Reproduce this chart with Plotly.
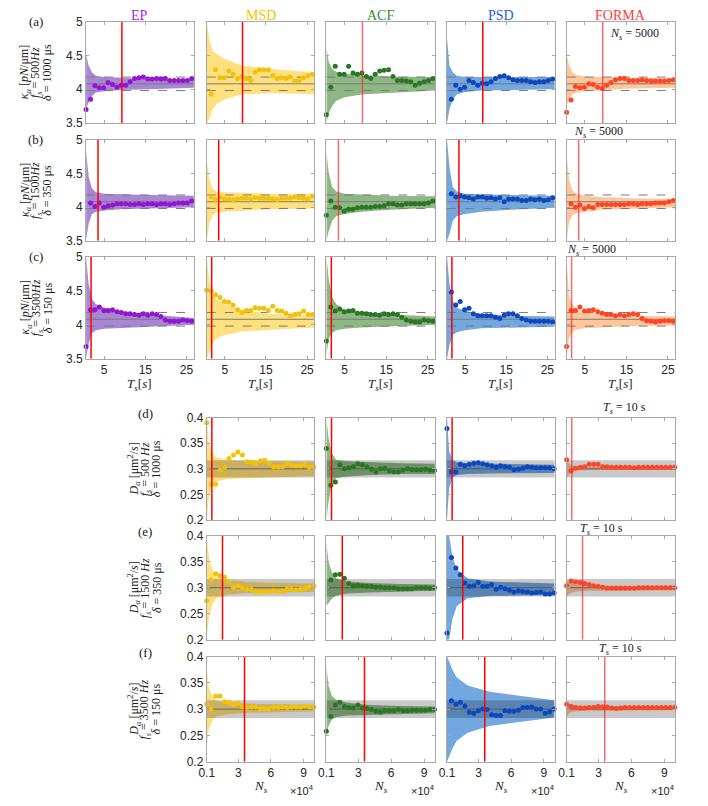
import plotly.graph_objects as go

W, H = 708, 806

# ---------------- data ----------------
# x positions of the estimates
Ts = [0.6, 1.67, 2.74, 3.81, 4.88, 5.95, 7.02, 8.09, 9.16, 10.23, 11.3, 12.37, 13.44,
      14.51, 15.58, 16.65, 17.72, 18.79, 19.86, 20.93, 22.0, 23.07, 24.14, 25.21, 26.28]  # T_s [s]
Ns = [0.1, 0.51, 0.92, 1.33, 1.74, 2.15, 2.56, 2.97, 3.38, 3.79, 4.2, 4.61, 5.02,
      5.43, 5.84, 6.25, 6.66, 7.07, 7.48, 7.89, 8.3, 8.71, 9.12, 9.53, 9.94]  # N_s (x 10^4)
band_Ts = [0.6, 1.2, 2, 3, 5, 9, 16, 26.8]
band_Ns = [0.1, 0.3, 0.6, 1.0, 2, 4, 7, 9.95]

K_TRUE = 4.08
K_TOL = [3.98, 4.18]
D_TRUE = 0.3
D_TOL = [0.283, 0.317]

fs_rows = [500, 1500, 3500]
delta_rows = [1000, 350, 150]
Ts_marker = [9.3, 3.5, 1.8]     # N_s = 5000
Ns_marker = [0.57, 1.55, 3.57]  # T_s = 10 s

# row (a) kappa, fs = 500 Hz
ka_ep = [3.7, 3.85, 4.05, 4.02, 4.02, 4.1, 4.07, 4.03, 4.06, 4.06, 4.11, 4.16, 4.17, 4.18, 4.15, 4.15, 4.16, 4.15, 4.16, 4.13, 4.13, 4.13, 4.13, 4.13, 4.16]
ka_msd = [None, 3.93, 4.29, 4.17, 4.17, 4.27, 4.22, 4.16, 4.19, 4.16, 4.13, 4.25, 4.29, 4.29, 4.29, 4.2, 4.16, 4.17, 4.16, 4.18, 4.12, 4.13, 4.17, 4.2, 4.22]
ka_acf = [3.62, 4.03, 4.34, 4.22, 4.22, 4.34, 4.24, 4.22, 4.24, 4.19, 4.16, 4.22, 4.27, 4.28, 4.29, 4.19, 4.13, 4.13, 4.12, 4.11, 4.06, 4.09, 4.11, 4.13, 4.16]
ka_psd = [None, 3.85, 4.06, 4.0, 4.03, 4.13, 4.1, 4.06, 4.09, 4.08, 4.11, 4.16, 4.19, 4.2, 4.17, 4.14, 4.13, 4.13, 4.13, 4.11, 4.1, 4.11, 4.11, 4.13, 4.15]
ka_forma = [3.66, 3.84, 4.04, 4.02, 4.03, 4.08, 4.07, 4.03, 4.01, 4.06, 4.1, 4.14, 4.16, 4.16, 4.13, 4.13, 4.13, 4.14, 4.13, 4.12, 4.12, 4.12, 4.12, 4.13, 4.14]
ka_ep_hi = [4.52, 4.35, 4.25, 4.2, 4.18, 4.17, 4.15, 4.14]
ka_ep_lo = [3.72, 3.8, 3.9, 3.95, 3.97, 3.99, 4.0, 4.02]
ka_msd_hi = [5.0, 4.75, 4.58, 4.52, 4.45, 4.35, 4.3, 4.25]
ka_msd_lo = [3.5, 3.55, 3.7, 3.78, 3.85, 3.92, 3.94, 3.93]
ka_acf_hi = [4.62, 4.4, 4.3, 4.26, 4.23, 4.21, 4.19, 4.18]
ka_acf_lo = [3.5, 3.65, 3.75, 3.83, 3.88, 3.92, 3.95, 3.98]
ka_psd_hi = [4.75, 4.35, 4.25, 4.2, 4.18, 4.18, 4.18, 4.18]
ka_psd_lo = [3.5, 3.7, 3.85, 3.92, 3.96, 3.98, 3.99, 4.0]
ka_forma_hi = [4.52, 4.35, 4.25, 4.21, 4.19, 4.18, 4.17, 4.16]
ka_forma_lo = [3.75, 3.85, 3.92, 3.95, 3.97, 3.99, 4.01, 4.02]

# row (b) kappa, fs = 1500 Hz
kb_ep = [None, 4.06, 4.01, 4.06, 4.0, 4.02, 4.03, 4.05, 4.05, 4.05, 4.04, 4.04, 4.05, 4.04, 4.05, 4.05, 4.04, 4.05, 4.05, 4.04, 4.05, 4.06, 4.06, 4.06, 4.09]
kb_msd = [None, 4.15, 4.11, 4.15, 4.12, 4.12, 4.11, 4.12, 4.13, 4.13, 4.12, 4.14, 4.13, 4.13, 4.13, 4.12, 4.11, 4.13, 4.13, 4.13, 4.15, 4.14, 4.13, 4.12, 4.16]
kb_acf = [3.88, 4.09, 4.0, 3.99, 3.94, 3.97, 3.97, 3.99, 4.0, 4.0, 4.0, 4.01, 4.01, 4.02, 4.05, 4.05, 4.03, 4.03, 4.05, 4.05, 4.05, 4.05, 4.05, 4.06, 4.09]
kb_psd = [None, 4.2, 4.15, 4.17, 4.15, 4.14, 4.12, 4.15, 4.15, 4.13, 4.14, 4.12, 4.14, 4.08, 4.12, 4.12, 4.12, 4.1, 4.1, 4.12, 4.11, 4.12, 4.1, 4.11, 4.14]
kb_forma = [None, 4.05, 4.0, 4.03, 3.98, 4.01, 3.99, 4.04, 4.04, 4.04, 4.04, 4.04, 4.04, 4.04, 4.05, 4.05, 4.04, 4.05, 4.05, 4.05, 4.06, 4.06, 4.06, 4.08, 4.1]
kb_ep_hi = [4.84, 4.45, 4.28, 4.22, 4.2, 4.19, 4.18, 4.17]
kb_ep_lo = [3.5, 3.75, 3.9, 3.93, 3.95, 3.97, 3.98, 4.0]
kb_msd_hi = [4.7, 4.42, 4.28, 4.23, 4.22, 4.21, 4.2, 4.2]
kb_msd_lo = [3.5, 3.75, 3.88, 3.92, 3.93, 3.95, 3.97, 3.98]
kb_acf_hi = [4.82, 4.5, 4.3, 4.23, 4.2, 4.19, 4.17, 4.16]
kb_acf_lo = [3.5, 3.65, 3.8, 3.87, 3.9, 3.93, 3.96, 3.99]
kb_psd_hi = [5.0, 4.6, 4.3, 4.23, 4.2, 4.19, 4.18, 4.17]
kb_psd_lo = [3.5, 3.6, 3.8, 3.87, 3.9, 3.93, 3.96, 3.99]
kb_forma_hi = [4.77, 4.4, 4.25, 4.2, 4.17, 4.15, 4.13, 4.12]
kb_forma_lo = [3.5, 3.78, 3.88, 3.91, 3.93, 3.96, 3.98, 4.0]

# row (c) kappa, fs = 3500 Hz
kc_ep = [3.68, 4.22, 4.22, 4.26, 4.21, 4.21, 4.22, 4.19, 4.18, 4.16, 4.16, 4.15, 4.14, 4.16, 4.14, 4.16, 4.15, 4.12, 4.07, 4.05, 4.05, 4.05, 4.07, 4.06, 4.05]
kc_msd = [4.51, 4.49, 4.44, 4.4, 4.34, 4.33, 4.29, 4.22, 4.18, 4.21, 4.21, 4.25, 4.24, 4.24, 4.21, 4.27, 4.21, 4.2, 4.17, 4.13, 4.15, 4.16, 4.2, 4.15, 4.15]
kc_acf = [3.76, 4.26, 4.2, 4.23, 4.19, 4.2, 4.21, 4.17, 4.17, 4.16, 4.15, 4.15, 4.14, 4.16, 4.15, 4.16, 4.15, 4.11, 4.07, 4.05, 4.04, 4.04, 4.07, 4.06, 4.05]
kc_psd = [None, 4.48, 4.29, 4.34, 4.22, 4.24, 4.16, 4.13, 4.13, 4.13, 4.13, 4.11, 4.09, 4.14, 4.16, 4.16, 4.13, 4.09, 4.07, 4.05, 4.05, 4.05, 4.05, 4.05, 4.04]
kc_forma = [3.68, 4.21, 4.21, 4.26, 4.2, 4.21, 4.22, 4.19, 4.17, 4.15, 4.15, 4.13, 4.15, 4.13, 4.15, 4.16, 4.15, 4.09, 4.06, 4.05, 4.04, 4.05, 4.06, 4.06, 4.05]
kc_ep_hi = [5.0, 4.6, 4.38, 4.3, 4.25, 4.2, 4.15, 4.1]
kc_ep_lo = [3.5, 3.72, 3.87, 3.92, 3.94, 3.95, 3.97, 4.0]
kc_msd_hi = [5.0, 4.65, 4.45, 4.37, 4.3, 4.22, 4.16, 4.13]
kc_msd_lo = [3.5, 3.6, 3.72, 3.8, 3.85, 3.9, 3.93, 3.96]
kc_acf_hi = [5.0, 4.65, 4.4, 4.3, 4.22, 4.18, 4.15, 4.12]
kc_acf_lo = [3.55, 3.8, 3.88, 3.92, 3.94, 3.96, 3.98, 4.0]
kc_psd_hi = [5.0, 4.6, 4.35, 4.25, 4.2, 4.16, 4.13, 4.12]
kc_psd_lo = [3.5, 3.7, 3.85, 3.89, 3.92, 3.95, 3.96, 3.97]
kc_forma_hi = [4.96, 4.4, 4.3, 4.22, 4.18, 4.15, 4.13, 4.12]
kc_forma_lo = [3.5, 3.8, 3.9, 3.93, 3.95, 3.96, 3.98, 3.99]

# row (d) D, fs = 500 Hz
dd_msd = [0.39, 0.27, 0.27, 0.297, 0.303, 0.32, 0.327, 0.333, 0.327, 0.314, 0.313, 0.311, 0.316, 0.317, 0.311, 0.304, 0.304, 0.304, 0.311, 0.307, 0.306, 0.306, 0.309, 0.303, 0.303]
dd_acf = [0.34, 0.268, 0.274, 0.308, 0.3, 0.302, 0.304, 0.31, 0.308, 0.304, 0.299, 0.294, 0.3, 0.301, 0.296, 0.294, 0.294, 0.297, 0.3, 0.298, 0.298, 0.298, 0.299, 0.297, 0.297]
dd_psd = [0.379, 0.294, 0.294, 0.309, 0.306, 0.309, 0.311, 0.312, 0.31, 0.308, 0.306, 0.303, 0.306, 0.304, 0.303, 0.298, 0.299, 0.301, 0.304, 0.303, 0.302, 0.302, 0.302, 0.302, 0.3]
dd_forma = [0.318, 0.296, 0.301, 0.303, 0.304, 0.309, 0.309, 0.309, 0.304, 0.304, 0.303, 0.303, 0.303, 0.303, 0.303, 0.302, 0.303, 0.303, 0.303, 0.303, 0.303, 0.303, 0.303, 0.303, 0.303]
dd_msd_hi = [0.4, 0.35, 0.33, 0.322, 0.318, 0.316, 0.315, 0.314]
dd_msd_lo = [0.2, 0.245, 0.266, 0.275, 0.28, 0.282, 0.284, 0.286]
dd_acf_hi = [0.4, 0.36, 0.33, 0.318, 0.315, 0.313, 0.311, 0.31]
dd_acf_lo = [0.2, 0.235, 0.27, 0.282, 0.285, 0.288, 0.29, 0.29]
dd_psd_hi = [0.4, 0.335, 0.318, 0.313, 0.311, 0.31, 0.309, 0.308]
dd_psd_lo = [0.2, 0.262, 0.283, 0.288, 0.29, 0.291, 0.292, 0.292]
dd_forma_hi = [0.33, 0.31, 0.306, 0.305, 0.304, 0.304, 0.304, 0.304]
dd_forma_lo = [0.279, 0.29, 0.295, 0.297, 0.297, 0.298, 0.298, 0.298]

# row (e) D, fs = 1500 Hz
de_msd = [0.275, 0.315, 0.327, 0.323, 0.32, 0.312, 0.301, 0.304, 0.3, 0.297, 0.297, 0.292, 0.292, 0.293, 0.292, 0.294, 0.293, 0.293, 0.297, 0.297, 0.296, 0.297, 0.299, 0.302, 0.303]
de_acf = [None, 0.315, 0.325, 0.326, 0.318, 0.308, 0.304, 0.305, 0.304, 0.303, 0.303, 0.301, 0.301, 0.3, 0.3, 0.3, 0.298, 0.298, 0.298, 0.298, 0.3, 0.3, 0.3, 0.299, 0.3]
de_psd = [0.213, 0.358, 0.338, 0.325, 0.309, 0.303, 0.304, 0.31, 0.303, 0.303, 0.306, 0.297, 0.301, 0.298, 0.295, 0.292, 0.294, 0.293, 0.292, 0.29, 0.291, 0.292, 0.288, 0.288, 0.29]
de_forma = [0.304, 0.313, 0.311, 0.31, 0.308, 0.306, 0.304, 0.303, 0.301, 0.299, 0.299, 0.299, 0.299, 0.299, 0.299, 0.299, 0.3, 0.3, 0.3, 0.3, 0.3, 0.3, 0.3, 0.3, 0.3]
de_msd_hi = [0.4, 0.36, 0.335, 0.322, 0.315, 0.311, 0.309, 0.308]
de_msd_lo = [0.2, 0.24, 0.268, 0.28, 0.287, 0.29, 0.291, 0.292]
de_acf_hi = [0.387, 0.35, 0.33, 0.318, 0.312, 0.309, 0.307, 0.306]
de_acf_lo = [0.265, 0.27, 0.279, 0.285, 0.289, 0.291, 0.293, 0.294]
de_psd_hi = [0.4, 0.4, 0.36, 0.335, 0.318, 0.312, 0.31, 0.308]
de_psd_lo = [0.2, 0.2, 0.24, 0.265, 0.28, 0.284, 0.285, 0.286]
de_forma_hi = [0.317, 0.31, 0.308, 0.306, 0.305, 0.304, 0.304, 0.304]
de_forma_lo = [0.282, 0.288, 0.291, 0.293, 0.294, 0.295, 0.295, 0.295]

# row (f) D, fs = 3500 Hz
df_msd = [0.309, 0.3, 0.325, 0.325, 0.314, 0.313, 0.309, 0.311, 0.304, 0.303, 0.304, 0.304, 0.3, 0.301, 0.301, 0.303, 0.303, 0.304, 0.303, 0.304, 0.304, 0.304, 0.306, 0.304, 0.304]
df_acf = [0.258, 0.286, 0.308, 0.313, 0.305, 0.303, 0.302, 0.308, 0.302, 0.301, 0.299, 0.296, 0.294, 0.297, 0.297, 0.297, 0.299, 0.297, 0.297, 0.298, 0.298, 0.298, 0.298, 0.299, 0.299]
df_psd = [None, 0.316, 0.309, 0.313, 0.306, 0.294, 0.292, 0.297, 0.3, 0.299, 0.289, 0.288, 0.288, 0.297, 0.296, 0.296, 0.298, 0.303, 0.303, 0.304, 0.3, 0.3, 0.292, 0.295, 0.3]
df_forma = [0.309, 0.305, 0.303, 0.302, 0.302, 0.303, 0.303, 0.305, 0.304, 0.304, 0.302, 0.301, 0.302, 0.303, 0.303, 0.303, 0.303, 0.303, 0.303, 0.303, 0.303, 0.303, 0.303, 0.303, 0.303]
df_msd_hi = [0.381, 0.34, 0.325, 0.316, 0.312, 0.31, 0.309, 0.308]
df_msd_lo = [0.228, 0.262, 0.278, 0.286, 0.29, 0.293, 0.295, 0.296]
df_acf_hi = [0.383, 0.345, 0.325, 0.318, 0.312, 0.308, 0.306, 0.305]
df_acf_lo = [0.246, 0.268, 0.28, 0.285, 0.288, 0.29, 0.291, 0.292]
df_psd_hi = [0.4, 0.39, 0.375, 0.36, 0.345, 0.333, 0.325, 0.317]
df_psd_lo = [0.2, 0.21, 0.225, 0.24, 0.255, 0.268, 0.276, 0.284]
df_forma_hi = [0.316, 0.31, 0.308, 0.307, 0.307, 0.306, 0.306, 0.306]
df_forma_lo = [0.284, 0.292, 0.295, 0.296, 0.297, 0.297, 0.298, 0.298]

# ---------------- style ----------------
STYLE = {
    "EP": dict(title="#a62ae6", dot="#9414d2", band="#a886d4"),
    "MSD": dict(title="#f5c400", dot="#f2c10a", band="#ffe07e"),
    "ACF": dict(title="#2e8b2e", dot="#2a7625", band="#8db883"),
    "PSD": dict(title="#1f5fe0", dot="#0c47bf", band="#72a7e0"),
    "FORMA": dict(title="#ff3b3b", dot="#ff4528", band="#ffc69c"),
}
COLS = {"EP": (79, 188), "MSD": (201, 310), "ACF": (322, 432), "PSD": (444, 553), "FORMA": (565, 675)}
TOP_ROWS = [(15, 118), (135, 238), (254, 358)]
BOT_ROWS = [(418, 522), (538, 644), (661, 768)]
SERIF = "Liberation Serif"
SANS = "Liberation Sans"

top_data = [
    {"EP": (ka_ep, ka_ep_hi, ka_ep_lo), "MSD": (ka_msd, ka_msd_hi, ka_msd_lo), "ACF": (ka_acf, ka_acf_hi, ka_acf_lo),
     "PSD": (ka_psd, ka_psd_hi, ka_psd_lo), "FORMA": (ka_forma, ka_forma_hi, ka_forma_lo)},
    {"EP": (kb_ep, kb_ep_hi, kb_ep_lo), "MSD": (kb_msd, kb_msd_hi, kb_msd_lo), "ACF": (kb_acf, kb_acf_hi, kb_acf_lo),
     "PSD": (kb_psd, kb_psd_hi, kb_psd_lo), "FORMA": (kb_forma, kb_forma_hi, kb_forma_lo)},
    {"EP": (kc_ep, kc_ep_hi, kc_ep_lo), "MSD": (kc_msd, kc_msd_hi, kc_msd_lo), "ACF": (kc_acf, kc_acf_hi, kc_acf_lo),
     "PSD": (kc_psd, kc_psd_hi, kc_psd_lo), "FORMA": (kc_forma, kc_forma_hi, kc_forma_lo)},
]
bot_data = [
    {"MSD": (dd_msd, dd_msd_hi, dd_msd_lo), "ACF": (dd_acf, dd_acf_hi, dd_acf_lo),
     "PSD": (dd_psd, dd_psd_hi, dd_psd_lo), "FORMA": (dd_forma, dd_forma_hi, dd_forma_lo)},
    {"MSD": (de_msd, de_msd_hi, de_msd_lo), "ACF": (de_acf, de_acf_hi, de_acf_lo),
     "PSD": (de_psd, de_psd_hi, de_psd_lo), "FORMA": (de_forma, de_forma_hi, de_forma_lo)},
    {"MSD": (df_msd, df_msd_hi, df_msd_lo), "ACF": (df_acf, df_acf_hi, df_acf_lo),
     "PSD": (df_psd, df_psd_hi, df_psd_lo), "FORMA": (df_forma, df_forma_hi, df_forma_lo)},
]


def px(x):
    return x / W


def py(y):
    return 1 - y / H


fig = go.Figure()
layout = {}
annotations = []
n_ax = 0


def new_axes(cols, rows, xr, yr, xtv, xtt, show_xt, ytv, show_yt):
    global n_ax
    n_ax += 1
    s = "" if n_ax == 1 else str(n_ax)
    common = dict(showgrid=False, zeroline=False, showline=True, mirror="ticks",
                  linecolor="#a8a8a8", linewidth=1, ticks="inside", ticklen=3,
                  tickcolor="#a8a8a8", tickfont=dict(family=SANS, size=12, color="#262626"))
    layout["xaxis" + s] = dict(domain=[px(cols[0]), px(cols[1])], range=xr, anchor="y" + s,
                               tickvals=xtv, ticktext=xtt, showticklabels=show_xt, **common)
    layout["yaxis" + s] = dict(domain=[py(rows[1]), py(rows[0])], range=yr, anchor="x" + s,
                               tickvals=ytv, showticklabels=show_yt, **common)
    return "x" + s, "y" + s


def add(xa, ya, **kw):
    fig.add_trace(go.Scatter(xaxis=xa, yaxis=ya, showlegend=False, hoverinfo="skip", **kw))


# ---- top block: kappa vs T_s ----
xr_top = [0.6, 26.8]
for r, rows in enumerate(TOP_ROWS):
    for m, cols in COLS.items():
        dots, hi, lo = top_data[r][m]
        xa, ya = new_axes(cols, rows, xr_top, [3.5, 5], [5, 15, 25], ["5", "15", "25"], r == 2,
                          [3.5, 4, 4.5, 5], m == "EP")
        st = STYLE[m]
        add(xa, ya, x=band_Ts + band_Ts[::-1], y=hi + lo[::-1], fill="toself",
            fillcolor=st["band"], mode="lines", line=dict(width=0))
        add(xa, ya, x=xr_top, y=[K_TRUE, K_TRUE], mode="lines", line=dict(color="#7a7a7a", width=1))
        for t in K_TOL:
            add(xa, ya, x=xr_top, y=[t, t], mode="lines", line=dict(color="#7a7a7a", width=1, dash="dash"))
        add(xa, ya, x=Ts, y=dots, mode="markers", cliponaxis=False,
            marker=dict(color=st["dot"], size=5))
        light = m == "FORMA" or (m == "ACF" and r < 2)
        add(xa, ya, x=[Ts_marker[r]] * 2, y=[3.5, 5], mode="lines",
            line=dict(color="rgba(255,40,40,0.7)" if light else "#ff0000", width=1.5))

# ---- bottom block: D vs N_s ----
xr_bot = [0.1, 10]
for r, rows in enumerate(BOT_ROWS):
    for m in ["MSD", "ACF", "PSD", "FORMA"]:
        cols = COLS[m]
        dots, hi, lo = bot_data[r][m]
        xa, ya = new_axes(cols, rows, xr_bot, [0.2, 0.4], [0.1, 3, 6, 9], ["0.1", "3", "6", "9"], r == 2,
                          [0.2, 0.25, 0.3, 0.35, 0.4], m == "MSD")
        st = STYLE[m]
        add(xa, ya, x=band_Ns + band_Ns[::-1], y=hi + lo[::-1], fill="toself",
            fillcolor=st["band"], mode="lines", line=dict(width=0))
        add(xa, ya, x=[xr_bot[0], xr_bot[1], xr_bot[1], xr_bot[0]],
            y=[D_TOL[0], D_TOL[0], D_TOL[1], D_TOL[1]], fill="toself",
            fillcolor="rgba(0,0,0,0.21)", mode="lines", line=dict(width=0))
        add(xa, ya, x=xr_bot, y=[D_TRUE, D_TRUE], mode="lines", line=dict(color="#505050", width=0.8))
        add(xa, ya, x=Ns, y=dots, mode="markers", cliponaxis=False,
            marker=dict(color=st["dot"], size=5))
        light = m == "FORMA"
        add(xa, ya, x=[Ns_marker[r]] * 2, y=[0.2, 0.4], mode="lines",
            line=dict(color="rgba(255,40,40,0.7)" if light else "#ff0000", width=1.5))

# ---- text ----
def note(x, y, text, size=12, color="#1a1a1a", family=SERIF, angle=0, xanchor="center"):
    annotations.append(dict(x=px(x), y=py(y), xref="paper", yref="paper", text=text, showarrow=False,
                            textangle=angle, xanchor=xanchor, yanchor="middle",
                            font=dict(family=family, size=size, color=color)))


for m, cols in COLS.items():
    note((cols[0] + cols[1]) / 2, 9, m, size=14, color=STYLE[m]["title"])

for r, rows in enumerate(TOP_ROWS):
    yc = (rows[0] + rows[1]) / 2
    note(28, rows[0], "(%s)" % "abc"[r], size=13)
    note(18, yc, "<i>κ<sub>α</sub></i> [<i>pN</i>/μm]", size=12, angle=-90)
    note(29, yc, "<i>f<sub>s</sub></i> = %d<i>Hz</i>" % fs_rows[r], size=12, angle=-90)
    note(40, yc, "<i>δ</i> = %d μs" % delta_rows[r], size=12, angle=-90)

for r, rows in enumerate(BOT_ROWS):
    yc = (rows[0] + rows[1]) / 2
    note(139, rows[0] - 4, "(%s)" % "def"[r], size=13)
    note(128, yc, "<i>D<sub>α</sub></i> [μm<sup>2</sup>/<i>s</i>]", size=12, angle=-90)
    note(139, yc, "<i>f<sub>s</sub></i> = %d <i>Hz</i>" % fs_rows[r], size=12, angle=-90)
    note(150, yc, "<i>δ</i> = %d μs" % delta_rows[r], size=12, angle=-90)

for m, cols in COLS.items():
    note((cols[0] + cols[1]) / 2, 384, "<i>T<sub>s</sub></i>[<i>s</i>]", size=13)
for m in ["MSD", "ACF", "PSD", "FORMA"]:
    cols = COLS[m]
    note((cols[0] + cols[1]) / 2, 793, "<i>N<sub>s</sub></i>", size=13)
    note(cols[1] + 2, 797, "×10<sup>4</sup>", size=11, family=SANS, xanchor="right")

note(634, 27, "<i>N<sub>s</sub></i> = 5000", size=12)
note(597, 127, "<i>N<sub>s</sub></i> = 5000", size=12)
note(590, 247, "<i>N<sub>s</sub></i> = 5000", size=12)
note(624, 408, "<i>T<sub>s</sub></i> = 10 s", size=12)
note(600, 531, "<i>T<sub>s</sub></i> = 10 s", size=12)
note(620, 653, "<i>T<sub>s</sub></i> = 10 s", size=12)

fig.update_layout(width=W, height=H, margin=dict(l=0, r=0, t=0, b=0),
                  paper_bgcolor="white", plot_bgcolor="white",
                  annotations=annotations, **layout)
# drop the page's default body margin so the figure sits at the window origin
fig.write_html("out.html", config={"displayModeBar": False},
               post_script="document.body.style.margin='0';document.body.style.overflow='hidden';")
